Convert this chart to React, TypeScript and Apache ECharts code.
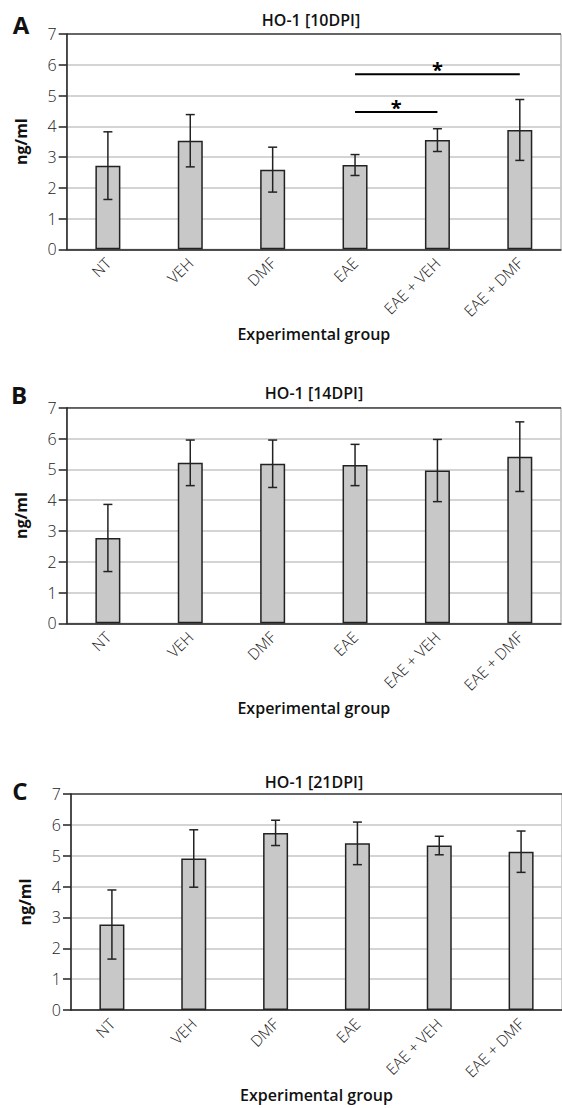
import React, { useEffect, useRef } from "react";
import * as echarts from "echarts";

// ---- data ----
const categories = ["NT", "VEH", "DMF", "EAE", "EAE + VEH", "EAE + DMF"];
const yTickValues = [0, 1, 2, 3, 4, 5, 6, 7];

const panelTitles = ["HO-1 [10DPI]", "HO-1 [14DPI]", "HO-1 [21DPI]"];
const panelLetters = ["A", "B", "C"];

const meansA = [2.72, 3.53, 2.59, 2.74, 3.55, 3.88];
const errA = [1.1, 0.85, 0.73, 0.34, 0.37, 0.99];

const meansB = [2.77, 5.21, 5.18, 5.14, 4.96, 5.41];
const errB = [1.09, 0.74, 0.77, 0.67, 1.01, 1.13];

const meansC = [2.77, 4.91, 5.74, 5.4, 5.33, 5.13];
const errC = [1.12, 0.93, 0.41, 0.69, 0.3, 0.67];

// significance brackets in panel A: [fromIndex, toIndex, yValue]
const sigA = [
  [3, 4, 4.46],
  [3, 5, 5.69],
];

const xAxisName = "Experimental group";
const yAxisName = "ng/ml";

const FONT = "'Open Sans', 'DejaVu Sans', sans-serif";

export default function App() {
  const ref = useRef<HTMLDivElement>(null);

  useEffect(() => {
    if (!ref.current) return;
    const chart = echarts.init(ref.current, undefined, { renderer: "svg" });

    const grids = [
      { left: 66.7, top: 34, width: 494.3, height: 215.3 },
      { left: 66.7, top: 407.7, width: 494.3, height: 215.6 },
      { left: 71, top: 794, width: 495, height: 216 },
    ];
    const titlePos = [
      [311, 20],
      [314, 393],
      [314, 782],
    ];
    const letterPos = [
      [21, 24],
      [19, 394],
      [20, 790],
    ];
    const means = [meansA, meansB, meansC];
    const errs = [errA, errB, errC];

    const splitColors = yTickValues.map((v, i) =>
      i === yTickValues.length - 1 ? "#444" : "#c6c6c6"
    );

    const xAxes = grids.map((_, i) => ({
      type: "category",
      gridIndex: i,
      data: categories,
      axisLine: { show: true, lineStyle: { color: "#222", width: 1.5 } },
      axisTick: { show: false },
      axisLabel: {
        interval: 0,
        rotate: 45,
        margin: 11,
        fontSize: 15.5,
        fontWeight: 300,
        fontFamily: FONT,
        color: "#222",
      },
      name: xAxisName,
      nameLocation: "middle",
      nameGap: 77,
      nameTextStyle: {
        fontSize: 16,
        fontWeight: 600,
        fontFamily: FONT,
        color: "#111",
      },
    }));

    const yAxes = grids.map((_, i) => ({
      type: "value",
      gridIndex: i,
      min: yTickValues[0],
      max: yTickValues[yTickValues.length - 1],
      interval: 1,
      axisLine: { show: true, lineStyle: { color: "#222", width: 1.5 } },
      axisTick: {
        show: true,
        length: 8,
        lineStyle: { color: "#222", width: 1.5 },
      },
      axisLabel: {
        margin: 10,
        fontSize: 16,
        fontWeight: 300,
        fontFamily: FONT,
        color: "#222",
      },
      splitLine: {
        show: true,
        lineStyle: { color: splitColors, width: 1.5 },
      },
      name: yAxisName,
      nameLocation: "middle",
      nameGap: 38,
      nameTextStyle: {
        fontSize: 16,
        fontWeight: 700,
        fontFamily: FONT,
        color: "#111",
      },
    }));

    const barSeries = grids.map((_, i) => ({
      type: "bar",
      xAxisIndex: i,
      yAxisIndex: i,
      data: means[i],
      barWidth: 25,
      itemStyle: { color: "#c8c8c8", borderColor: "#222", borderWidth: 1.5 },
      z: 2,
    }));

    const errSeries = grids.map((_, i) => ({
      type: "custom",
      xAxisIndex: i,
      yAxisIndex: i,
      z: 5,
      encode: { x: 0, y: 1 },
      data: categories.map((_c, k) => [k, means[i][k], errs[i][k]]),
      renderItem: (params: any, api: any) => {
        const idx = api.value(0);
        const m = api.value(1);
        const e = api.value(2);
        const top = api.coord([idx, m + e]);
        const bot = api.coord([idx, m - e]);
        const hw = 4.5;
        const st = { stroke: "#222", lineWidth: 1.5 };
        return {
          type: "group",
          children: [
            { type: "line", shape: { x1: top[0], y1: top[1], x2: bot[0], y2: bot[1] }, style: st },
            { type: "line", shape: { x1: top[0] - hw, y1: top[1], x2: top[0] + hw, y2: top[1] }, style: st },
            { type: "line", shape: { x1: bot[0] - hw, y1: bot[1], x2: bot[0] + hw, y2: bot[1] }, style: st },
          ],
        };
      },
    }));

    const sigSeries = {
      type: "custom",
      xAxisIndex: 0,
      yAxisIndex: 0,
      z: 6,
      encode: { x: 0, y: 2 },
      data: sigA,
      renderItem: (params: any, api: any) => {
        const s = api.value(0);
        const e = api.value(1);
        const y = api.value(2);
        const p1 = api.coord([s, y]);
        const p2 = api.coord([e, y]);
        return {
          type: "group",
          children: [
            {
              type: "line",
              shape: { x1: p1[0], y1: p1[1], x2: p2[0], y2: p2[1] },
              style: { stroke: "#000", lineWidth: 2 },
            },
            {
              type: "text",
              x: (p1[0] + p2[0]) / 2,
              y: p1[1] - 4.5,
              style: {
                text: "*",
                fontSize: 20,
                fontWeight: "bold",
                fontFamily: FONT,
                fill: "#000",
                align: "center",
                verticalAlign: "middle",
              },
            },
          ],
        };
      },
    };

    const graphics: any[] = [];
    panelTitles.forEach((t, i) => {
      graphics.push({
        type: "text",
        x: titlePos[i][0],
        y: titlePos[i][1],
        style: {
          text: t,
          fontSize: 16,
          fontWeight: 600,
          fontFamily: FONT,
          fill: "#111",
          align: "center",
          verticalAlign: "middle",
        },
      });
    });
    panelLetters.forEach((t, i) => {
      graphics.push({
        type: "text",
        x: letterPos[i][0],
        y: letterPos[i][1],
        style: {
          text: t,
          fontSize: 24,
          fontWeight: 700,
          fontFamily: FONT,
          fill: "#111",
          align: "center",
          verticalAlign: "middle",
        },
      });
    });

    chart.setOption({
      animation: false,
      backgroundColor: "#fff",
      grid: grids.map((g) => ({
        ...g,
        show: true,
        borderColor: "#999",
        borderWidth: 1,
        backgroundColor: "transparent",
        containLabel: false,
      })),
      xAxis: xAxes,
      yAxis: yAxes,
      series: [...barSeries, ...errSeries, sigSeries],
      graphic: graphics,
    });

    return () => chart.dispose();
  }, []);

  return (
    <div
      ref={ref}
      style={{ position: "fixed", left: 0, top: 0, width: 562, height: 1108, background: "#fff" }}
    />
  );
}
